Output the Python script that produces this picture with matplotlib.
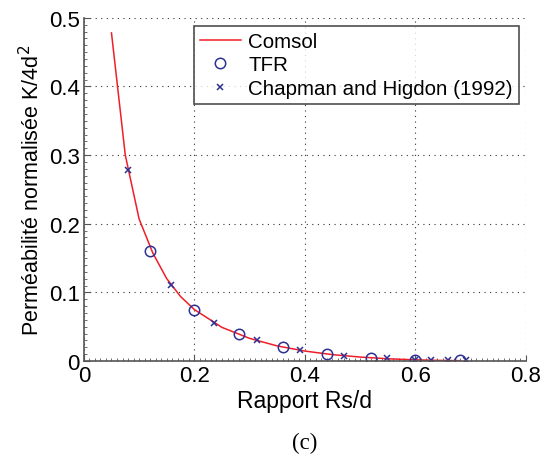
import matplotlib
matplotlib.use('Agg')
from matplotlib import pyplot as plt
from matplotlib.ticker import MultipleLocator

plt.rcParams['font.family'] = ['Liberation Sans', 'DejaVu Sans']

# Comsol (ligne continue)
comsol_x = [0.05, 0.075, 0.1, 0.125, 0.15, 0.175, 0.2, 0.25, 0.3, 0.35, 0.4,
            0.45, 0.5, 0.55, 0.6, 0.65, 0.68]
comsol_y = [0.478, 0.300, 0.207, 0.157, 0.120, 0.094, 0.075, 0.049, 0.033,
            0.022, 0.0145, 0.0093, 0.0058, 0.0033, 0.0017, 0.0008, 0.0005]

# TFR (cercles)
tfr_x = [0.12, 0.2, 0.28, 0.36, 0.44, 0.52, 0.6, 0.68]
tfr_y = [0.161, 0.074, 0.039, 0.020, 0.0102, 0.0044, 0.002, 0.0012]

# Chapman and Higdon (1992) (croix)
ch_x = [0.079, 0.157, 0.236, 0.314, 0.392, 0.470, 0.548, 0.600, 0.629, 0.659, 0.692]
ch_y = [0.279, 0.111, 0.056, 0.030, 0.016, 0.0078, 0.0039, 0.002, 0.0015, 0.001, 0.0008]

x_ticks = [0, 0.2, 0.4, 0.6, 0.8]
x_labels = ['0', '0.2', '0.4', '0.6', '0.8']
y_ticks = [0, 0.1, 0.2, 0.3, 0.4, 0.5]
y_labels = ['0', '0.1', '0.2', '0.3', '0.4', '0.5']

fig = plt.figure(figsize=(5.41, 4.6), dpi=100)
ax = fig.add_axes([0.155, 0.213, 0.817, 0.746])

ax.plot(comsol_x, comsol_y, color='#f01e28', lw=1.1, label='Comsol')
ax.plot(tfr_x, tfr_y, 'o', mfc='none', mec='#2e3192', mew=1.1, ms=7.5, label='TFR')
ax.plot(ch_x, ch_y, 'x', color='#2e3192', mew=1.1, ms=5, label='Chapman and Higdon (1992)')

ax.set_xlim(0, 0.8)
ax.set_ylim(0, 0.5)
ax.set_xticks(x_ticks)
ax.set_xticklabels(x_labels)
ax.set_yticks(y_ticks)
ax.set_yticklabels(y_labels)
ax.xaxis.set_minor_locator(MultipleLocator(0.01))
ax.yaxis.set_minor_locator(MultipleLocator(0.01))
ax.tick_params(which='both', direction='in', labelsize=16, color='#555555')
ax.tick_params(which='major', length=4, pad=3)
ax.tick_params(which='minor', length=2)

ax.grid(True, linestyle=(0, (1, 4)), color='#333333', lw=0.8)
ax.spines['top'].set_visible(False)
ax.spines['right'].set_visible(False)
ax.spines['left'].set_color('#555555')
ax.spines['bottom'].set_color('#555555')
ax.spines['left'].set_linewidth(1.2)
ax.spines['bottom'].set_linewidth(1.2)

ax.set_xlabel('Rapport Rs/d', fontsize=16.5, labelpad=2)
ax.set_ylabel('Perméabilité normalisée K/4d$^2$', fontsize=15.5, labelpad=3)

leg = ax.legend(loc='upper right', bbox_to_anchor=(0.984, 0.977), fontsize=14.8,
                frameon=True, fancybox=False, edgecolor='#222222',
                borderpad=0.3, labelspacing=0.22, handlelength=2.0,
                handletextpad=0.35, borderaxespad=0)
leg.get_frame().set_linewidth(1.2)

fig.text(0.563, 0.035, '(c)', fontsize=16.5, family=['Liberation Serif', 'DejaVu Serif'],
         ha='center', va='center')

plt.savefig('out.png', dpi=100)
